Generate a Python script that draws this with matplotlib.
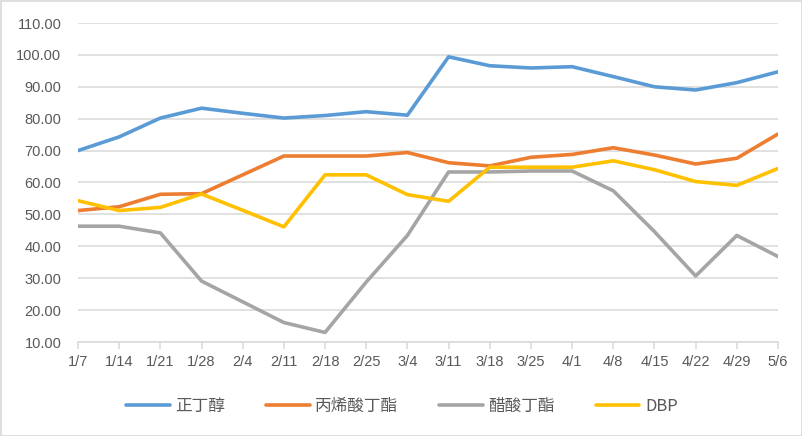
import matplotlib
matplotlib.use("Agg")
import matplotlib.pyplot as plt
from matplotlib.lines import Line2D
from matplotlib.patches import Rectangle

dates = ["1/7", "1/14", "1/21", "1/28", "2/4", "2/11", "2/18", "2/25", "3/4",
         "3/11", "3/18", "3/25", "4/1", "4/8", "4/15", "4/22", "4/29", "5/6"]
n_butanol = [70.0, 74.3, 80.2, 83.3, 81.7, 80.2, 81.0, 82.2, 81.1,
             99.4, 96.6, 95.9, 96.3, 93.2, 90.0, 89.0, 91.3, 94.7]
butyl_acrylate = [51.2, 52.4, 56.3, 56.5, 62.4, 68.3, 68.3, 68.3, 69.4,
                  66.2, 65.2, 67.9, 68.8, 70.9, 68.6, 65.8, 67.6, 75.2]
butyl_acetate = [46.3, 46.3, 44.2, 29.1, 22.6, 16.1, 13.0, 28.8, 43.4,
                 63.3, 63.3, 63.6, 63.6, 57.4, 44.6, 30.7, 43.4, 36.8]
dbp = [54.3, 51.2, 52.2, 56.4, 51.3, 46.1, 62.4, 62.4, 56.2,
       54.1, 64.8, 64.8, 64.8, 66.8, 64.0, 60.3, 59.1, 64.4]

series_names = ["正丁醇", "丙烯酸丁酯", "醋酸丁酯", "DBP"]
series = [n_butanol, butyl_acrylate, butyl_acetate, dbp]
colors = ["#5B9BD5", "#ED7D31", "#A5A5A5", "#FFC000"]
yticks = [10, 20, 30, 40, 50, 60, 70, 80, 90, 100, 110]

plt.rcParams['font.family'] = ['Liberation Sans', 'Noto Sans CJK SC', 'DejaVu Sans']

fig = plt.figure(figsize=(8.03, 4.36), dpi=100)
ax = fig.add_axes([78/803, 1 - 342/436, (778-78)/803, (342-23)/436])

x = list(range(len(dates)))
for vals, c, name in zip(series, colors, series_names):
    ax.plot(x, vals, color=c, lw=2.6, label=name, solid_capstyle='round',
            solid_joinstyle='round', zorder=3)

ax.set_xlim(0, len(dates) - 1)
ax.set_ylim(10, 110)
ax.set_yticks(yticks)
ax.set_yticklabels([f"{v:.2f}" for v in yticks])
ax.set_xticks(x)
ax.set_xticklabels(dates)
ax.grid(axis='y', color='#D9D9D9', lw=1.1, zorder=0)
for s in ['top', 'right', 'left']:
    ax.spines[s].set_visible(False)
ax.spines['bottom'].set_color('#D9D9D9')
ax.spines['bottom'].set_linewidth(1.1)
ax.tick_params(axis='y', length=0, pad=12, labelsize=10.5, labelcolor='#595959')
ax.tick_params(axis='x', length=5, width=1.1, color='#D9D9D9', pad=4,
               labelsize=10.5, labelcolor='#595959')
for lbl in ax.get_xticklabels() + ax.get_yticklabels():
    lbl.set_family(['Liberation Sans', 'DejaVu Sans'])

handles = [Line2D([0], [0], color=c, lw=2.6, solid_capstyle='round') for c in colors]
leg = fig.legend(handles, series_names, loc='center', bbox_to_anchor=(402/803, 1 - 406/436),
                 ncol=4, frameon=False, handlelength=2.6, columnspacing=2.45,
                 handletextpad=0.35, prop={'family': ['Noto Sans CJK SC', 'DejaVu Sans'], 'size': 12})
for t in leg.get_texts():
    t.set_color('#595959')

fig.patches.append(Rectangle((0.5/803, 0.5/436), 1 - 1.5/803, 1 - 1.5/436,
                             transform=fig.transFigure, fill=False,
                             edgecolor='#D9D9D9', lw=1.2))

fig.savefig("out.png", dpi=100, facecolor='white')
